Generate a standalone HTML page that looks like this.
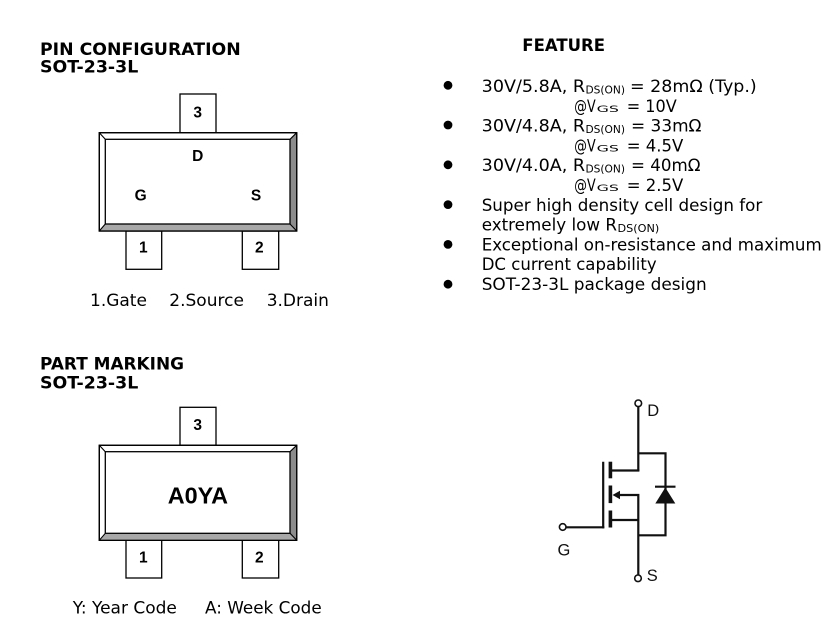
<!DOCTYPE html>
<html>
<head>
<meta charset="utf-8">
<style>
  html,body{margin:0;padding:0;background:#fff;}
  svg{display:block;}
  .h{font-family:"DejaVu Sans","Liberation Sans",sans-serif;font-weight:bold;font-size:17px;fill:#000;}
  .t{font-family:"DejaVu Sans","Liberation Sans",sans-serif;font-size:17px;fill:#000;}
  .sub{font-family:"DejaVu Sans","Liberation Sans",sans-serif;font-size:11px;fill:#000;}
  .gs{font-family:"DejaVu Sans","Liberation Sans",sans-serif;font-size:9px;fill:#000;}
  .pn{font-family:"Liberation Sans",Arial,sans-serif;font-weight:bold;font-size:15.5px;fill:#000;}
  .sc{font-family:"Liberation Sans",Arial,sans-serif;font-size:16.5px;fill:#111;}
</style>
</head>
<body>
<svg width="835" height="643" viewBox="0 0 835 643" xmlns="http://www.w3.org/2000/svg">
  <rect x="0" y="0" width="835" height="643" fill="#fff"/>

  <!-- Headings -->
  <text class="h" x="40" y="55" textLength="200.7" lengthAdjust="spacingAndGlyphs">PIN CONFIGURATION</text>
  <text class="h" x="40" y="72.3" textLength="98.3" lengthAdjust="spacingAndGlyphs">SOT-23-3L</text>
  <text class="h" x="522.3" y="51" textLength="82.7" lengthAdjust="spacingAndGlyphs">FEATURE</text>
  <text class="h" x="40" y="369.3" textLength="144" lengthAdjust="spacingAndGlyphs">PART MARKING</text>
  <text class="h" x="40" y="388.3" textLength="98.3" lengthAdjust="spacingAndGlyphs">SOT-23-3L</text>

  <!-- Package 1 -->
  <g stroke="#000" stroke-width="1.3" fill="#fff">
    <rect x="180" y="94" width="36" height="38.7"/>
    <rect x="126" y="231" width="35.7" height="38.3"/>
    <rect x="242.3" y="231" width="36.4" height="38.3"/>
    <rect x="99.3" y="132.7" width="197.4" height="98.3"/>
  </g>
  <polygon points="290,139.3 296.7,132.7 296.7,231 290,224" fill="#8c8c8c"/>
  <polygon points="105.3,224 290,224 296.7,231 99.3,231" fill="#a8a8a8"/>
  <g stroke="#000" stroke-width="1.1" fill="none">
    <rect x="99.3" y="132.7" width="197.4" height="98.3" stroke-width="1.3"/>
    <line x1="99.3" y1="132.7" x2="105.3" y2="139.3"/>
    <line x1="296.7" y1="132.7" x2="290" y2="139.3"/>
    <line x1="99.3" y1="231" x2="105.3" y2="224"/>
    <line x1="296.7" y1="231" x2="290" y2="224"/>
    <rect x="105.3" y="139.3" width="184.7" height="84.7" fill="#fff" stroke-width="1.3"/>
  </g>
  <text class="pn" x="197.7" y="117.3" text-anchor="middle">3</text>
  <text class="pn" x="197.7" y="161" text-anchor="middle">D</text>
  <text class="pn" x="140.7" y="200.7" text-anchor="middle">G</text>
  <text class="pn" x="256" y="200.7" text-anchor="middle">S</text>
  <text class="pn" x="143.3" y="252.7" text-anchor="middle">1</text>
  <text class="pn" x="259.3" y="252.7" text-anchor="middle">2</text>

  <text class="t" x="90" y="306" font-size="16.5">1.Gate</text>
  <text class="t" x="169.3" y="306" font-size="16.5">2.Source</text>
  <text class="t" x="266.7" y="306" font-size="16.5">3.Drain</text>

  <!-- Package 2 -->
  <g stroke="#000" stroke-width="1.3" fill="#fff">
    <rect x="180" y="407.3" width="36" height="38"/>
    <rect x="126" y="540.3" width="35.7" height="37.7"/>
    <rect x="242.3" y="540.3" width="36.4" height="37.7"/>
    <rect x="99.3" y="445.3" width="197.4" height="95"/>
  </g>
  <polygon points="290,451.7 296.7,445.3 296.7,540.3 290,533.3" fill="#8c8c8c"/>
  <polygon points="105.3,533.3 290,533.3 296.7,540.3 99.3,540.3" fill="#a8a8a8"/>
  <g stroke="#000" stroke-width="1.1" fill="none">
    <rect x="99.3" y="445.3" width="197.4" height="95" stroke-width="1.3"/>
    <line x1="99.3" y1="445.3" x2="105.3" y2="451.7"/>
    <line x1="296.7" y1="445.3" x2="290" y2="451.7"/>
    <line x1="99.3" y1="540.3" x2="105.3" y2="533.3"/>
    <line x1="296.7" y1="540.3" x2="290" y2="533.3"/>
    <rect x="105.3" y="451.7" width="184.7" height="81.6" fill="#fff" stroke-width="1.3"/>
  </g>
  <text class="pn" x="197.7" y="430" text-anchor="middle">3</text>
  <text class="pn" x="143.3" y="562.7" text-anchor="middle">1</text>
  <text class="pn" x="259.3" y="562.7" text-anchor="middle">2</text>
  <text x="197.9" y="503.3" text-anchor="middle" font-family="'Liberation Sans',Arial,sans-serif" font-weight="bold" font-size="23.4" fill="#000">A0YA</text>

  <text class="t" x="72.7" y="613.3" font-size="16.5">Y: Year Code</text>
  <text class="t" x="205" y="613.3" font-size="16.5" textLength="116.7" lengthAdjust="spacingAndGlyphs">A: Week Code</text>

  <!-- Feature bullets -->
  <g fill="#000">
    <circle cx="448" cy="85.3" r="4.4"/>
    <circle cx="448" cy="125" r="4.4"/>
    <circle cx="448" cy="164.8" r="4.4"/>
    <circle cx="448" cy="204.6" r="4.4"/>
    <circle cx="448" cy="244.4" r="4.4"/>
    <circle cx="448" cy="284.2" r="4.4"/>
  </g>

  <!-- Line 1 -->
  <text class="t" x="481.7" y="92" textLength="103.4" lengthAdjust="spacingAndGlyphs">30V/5.8A, R</text>
  <text class="sub" x="585.5" y="93.5" textLength="39.5" lengthAdjust="spacingAndGlyphs">DS(ON)</text>
  <text class="t" x="630" y="92" textLength="126.7" lengthAdjust="spacingAndGlyphs">= 28mΩ (Typ.)</text>
  <!-- Line 2 -->
  <text class="t" x="574.3" y="111.8" textLength="21.4" lengthAdjust="spacingAndGlyphs">@V</text>
  <text class="gs" x="596.7" y="111.8" textLength="22.3" lengthAdjust="spacingAndGlyphs">GS</text>
  <text class="t" x="626.7" y="111.8" textLength="50" lengthAdjust="spacingAndGlyphs">= 10V</text>
  <!-- Line 3 -->
  <text class="t" x="481.7" y="131.6" textLength="103.4" lengthAdjust="spacingAndGlyphs">30V/4.8A, R</text>
  <text class="sub" x="585.5" y="133.1" textLength="39.5" lengthAdjust="spacingAndGlyphs">DS(ON)</text>
  <text class="t" x="631" y="131.6" textLength="70.5" lengthAdjust="spacingAndGlyphs">= 33mΩ</text>
  <!-- Line 4 -->
  <text class="t" x="574.3" y="151.4" textLength="21.4" lengthAdjust="spacingAndGlyphs">@V</text>
  <text class="gs" x="596.7" y="151.4" textLength="22.3" lengthAdjust="spacingAndGlyphs">GS</text>
  <text class="t" x="626.7" y="151.4" textLength="56.6" lengthAdjust="spacingAndGlyphs">= 4.5V</text>
  <!-- Line 5 -->
  <text class="t" x="481.7" y="171.2" textLength="103.4" lengthAdjust="spacingAndGlyphs">30V/4.0A, R</text>
  <text class="sub" x="585.5" y="172.7" textLength="39.5" lengthAdjust="spacingAndGlyphs">DS(ON)</text>
  <text class="t" x="631" y="171.2" textLength="69.5" lengthAdjust="spacingAndGlyphs">= 40mΩ</text>
  <!-- Line 6 -->
  <text class="t" x="574.3" y="191" textLength="21.4" lengthAdjust="spacingAndGlyphs">@V</text>
  <text class="gs" x="596.7" y="191" textLength="22.3" lengthAdjust="spacingAndGlyphs">GS</text>
  <text class="t" x="626.7" y="191" textLength="56.6" lengthAdjust="spacingAndGlyphs">= 2.5V</text>
  <!-- Line 7 -->
  <text class="t" x="481.7" y="210.8" textLength="280.6" lengthAdjust="spacingAndGlyphs">Super high density cell design for</text>
  <!-- Line 8 -->
  <text class="t" x="481.7" y="230.6" textLength="135.3" lengthAdjust="spacingAndGlyphs">extremely low R</text>
  <text class="sub" x="617.5" y="232.1" textLength="41.8" lengthAdjust="spacingAndGlyphs">DS(ON)</text>
  <!-- Line 9 -->
  <text class="t" x="481.7" y="250.4" textLength="340" lengthAdjust="spacingAndGlyphs">Exceptional on-resistance and maximum</text>
  <!-- Line 10 -->
  <text class="t" x="481.7" y="270.2" textLength="175" lengthAdjust="spacingAndGlyphs">DC current capability</text>
  <!-- Line 11 -->
  <text class="t" x="481.7" y="290" textLength="225" lengthAdjust="spacingAndGlyphs">SOT-23-3L package design</text>

  <!-- MOSFET symbol -->
  <g stroke="#111" stroke-width="2.2" fill="none" stroke-linejoin="miter">
    <line x1="638.3" y1="406.8" x2="638.3" y2="471"/>
    <polyline points="638.3,453.3 665.5,453.3 665.5,535.3 638.3,535.3"/>
    <line x1="611" y1="470.5" x2="639.4" y2="470.5"/>
    <polyline points="616,495 638.3,495 638.3,574.8"/>
    <line x1="611" y1="520" x2="638.3" y2="520"/>
    <line x1="603.2" y1="461.7" x2="603.2" y2="528.4"/>
    <line x1="566" y1="527.3" x2="604.3" y2="527.3"/>
    <line x1="655" y1="486.7" x2="675.5" y2="486.7"/>
  </g>
  <g fill="#111">
    <rect x="608.6" y="461.7" width="3.6" height="16.6"/>
    <rect x="608.6" y="485.5" width="3.6" height="17.6"/>
    <rect x="608.6" y="510.5" width="3.6" height="17"/>
    <polygon points="612.5,495 620,490.8 620,499.2"/>
    <polygon points="665.3,487.5 655.3,503.5 675.3,503.5"/>
  </g>
  <g stroke="#111" stroke-width="1.6" fill="#fff">
    <circle cx="638.3" cy="403.3" r="3.3"/>
    <circle cx="562.7" cy="527" r="3.3"/>
    <circle cx="638" cy="578.3" r="3.3"/>
  </g>
  <text class="sc" x="647.3" y="416">D</text>
  <text class="sc" x="557.5" y="555.5">G</text>
  <text class="sc" x="646.7" y="581">S</text>
</svg>
</body>
</html>
